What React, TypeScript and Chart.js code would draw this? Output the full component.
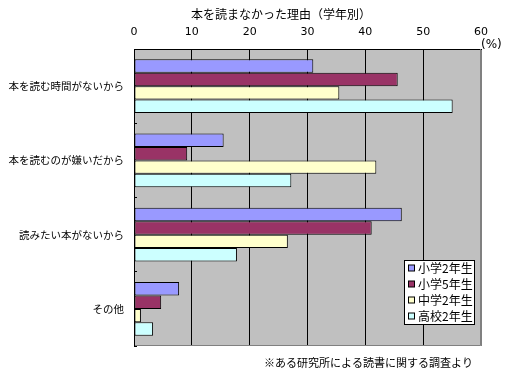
import React, { useEffect, useRef } from 'react';
import { Chart, registerables } from 'chart.js';

Chart.register(...registerables);

const categories = ['本を読む時間がないから', '本を読むのが嫌いだから', '読みたい本がないから', 'その他'];
const seriesNames = ['小学2年生', '小学5年生', '中学2年生', '高校2年生'];
const elementary2 = [31.0, 15.5, 46.3, 7.8];
const elementary5 = [45.6, 9.2, 41.1, 4.7];
const juniorHigh2 = [35.5, 41.9, 26.6, 1.2];
const highSchool2 = [55.1, 27.2, 17.8, 3.3];
const xMin = 0;
const xMax = 60;
const xStep = 10;
const titleText = '本を読まなかった理由（学年別）';
const unitText = '(%)';
const noteText = '※ある研究所による読書に関する調査より';

const seriesValues = [elementary2, elementary5, juniorHigh2, highSchool2];
const seriesColors = ['#9999FF', '#993366', '#FFFFCC', '#CCFFFF'];
const JP = "'Noto Sans CJK JP', 'Noto Sans', sans-serif";

const decorPlugin = {
  id: 'decor',
  beforeDraw(chart: any) {
    const { ctx, chartArea: a } = chart;
    ctx.save();
    ctx.fillStyle = '#C0C0C0';
    ctx.fillRect(a.left, a.top, a.right - a.left, a.bottom - a.top);
    ctx.restore();
  },
  afterDraw(chart: any) {
    const { ctx, chartArea: a } = chart;
    ctx.save();
    ctx.strokeStyle = '#808080';
    ctx.lineWidth = 1;
    ctx.beginPath();
    ctx.moveTo(Math.round(a.right) - 0.5, a.top);
    ctx.lineTo(Math.round(a.right) - 0.5, Math.round(a.bottom) - 0.5);
    ctx.lineTo(a.left + 1, Math.round(a.bottom) - 0.5);
    ctx.stroke();
    ctx.fillStyle = '#000';
    ctx.textBaseline = 'middle';
    ctx.textAlign = 'center';
    ctx.font = `12px ${JP}`;
    ctx.fillText(titleText, 281, 14);
    ctx.textAlign = 'left';
    ctx.font = `12px 'DejaVu Sans', sans-serif`;
    ctx.fillText(unitText, a.right, 45);
    ctx.textAlign = 'right';
    ctx.font = `11px ${JP}`;
    ctx.fillText(noteText, 473, 363);
    const lx = 404.5, ly = 260.5, lw = 70, lh = 64;
    ctx.fillStyle = '#FFFFFF';
    ctx.fillRect(lx, ly, lw, lh);
    ctx.strokeStyle = '#000';
    ctx.strokeRect(lx, ly, lw, lh);
    chart.data.datasets.forEach((ds: any, i: number) => {
      const cy = 268.5 + i * 16;
      ctx.fillStyle = ds.backgroundColor;
      ctx.fillRect(408.5, cy - 3.5, 6, 6);
      ctx.strokeStyle = '#000';
      ctx.strokeRect(408.5, cy - 3.5, 6, 6);
      ctx.fillStyle = '#000';
      ctx.textAlign = 'left';
      ctx.font = `12px ${JP}`;
      ctx.fillText(ds.label, 418, cy);
    });
    ctx.restore();
  },
};

export default function App() {
  const ref = useRef<HTMLCanvasElement | null>(null);
  useEffect(() => {
    if (!ref.current) return;
    const chart = new Chart(ref.current, {
      type: 'bar',
      data: {
        labels: categories,
        datasets: seriesNames.map((name, i) => ({
          label: name,
          data: seriesValues[i],
          backgroundColor: seriesColors[i],
          borderColor: '#000000',
          borderWidth: 1,
          borderSkipped: false,
          categoryPercentage: 0.727,
          barPercentage: 1,
        })),
      },
      options: {
        indexAxis: 'y',
        responsive: false,
        animation: false,
        devicePixelRatio: 1,
        layout: { padding: { left: 0, right: 29, top: 0, bottom: 30 } },
        plugins: {
          legend: { display: false },
          title: { display: false },
          tooltip: { enabled: false },
        },
        scales: {
          x: {
            position: 'top',
            min: xMin,
            max: xMax,
            ticks: { stepSize: xStep, padding: 10, color: '#000', font: { family: "'DejaVu Sans', sans-serif", size: 11 } },
            grid: {
              drawTicks: false,
              color: (c: any) => (c.tick && c.tick.value === xMax ? '#808080' : '#000000'),
              lineWidth: 1,
            },
            border: { color: '#000000', width: 1 },
            afterFit: (s: any) => { s.height = 49; },
          },
          y: {
            type: 'category',
            ticks: { padding: 13, color: '#000', font: { family: JP, size: 10.5 } },
            grid: { drawOnChartArea: false, drawTicks: true, tickLength: -3, color: '#000000' },
            border: { color: '#000000', width: 1 },
            afterFit: (s: any) => { s.width = 134; },
          },
        },
      },
      plugins: [decorPlugin],
    } as any);
    return () => chart.destroy();
  }, []);
  return (
    <div style={{ position: 'absolute', left: 0, top: 0, width: 510, height: 376, background: '#fff' }}>
      <canvas ref={ref} width={510} height={376} />
    </div>
  );
}
